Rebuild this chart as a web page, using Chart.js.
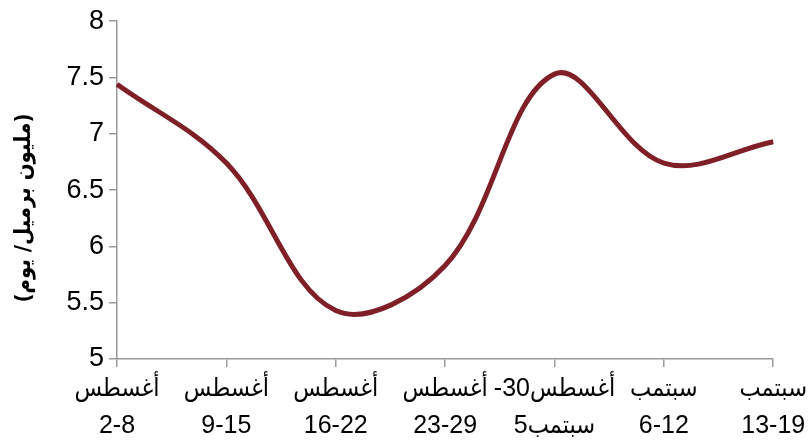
<!DOCTYPE html>
<html>
<head>
<meta charset="utf-8">
<script src="https://cdn.jsdelivr.net/npm/chart.js@4/dist/chart.umd.min.js"></script>
<style>
  html, body { margin: 0; padding: 0; background: #fff; }
  #wrap { width: 810px; height: 447px; position: relative; }
</style>
</head>
<body>
<div id="wrap"><canvas id="c" width="810" height="447"></canvas></div>
<script>
const weekLabels = [
  ['أغسطس', '2-8'],
  ['أغسطس', '9-15'],
  ['أغسطس', '16-22'],
  ['أغسطس', '23-29'],
  ['-30أغسطس', 'سبتمب5'],
  ['سبتمب', '6-12'],
  ['سبتمب', '13-19']
];
const production = [7.44, 6.74, 5.43, 5.83, 7.53, 6.74, 6.93];
const yTicks = [5, 5.5, 6, 6.5, 7, 7.5, 8];
const yTitle = '(مليون برميل/ يوم)';

const FONT = '"Liberation Sans", "DejaVu Sans Condensed", Arial, sans-serif';
const TITLE_FONT = '"DejaVu Sans Condensed", "DejaVu Sans", sans-serif';
const AXIS = '#9a9a9a';

const yTitlePlugin = {
  id: 'yTitle',
  afterDraw(chart) {
    const ctx = chart.ctx;
    ctx.save();
    ctx.translate(24, 208);
    ctx.rotate(-Math.PI / 2);
    ctx.font = 'bold 22px ' + TITLE_FONT;
    ctx.fillStyle = '#000';
    ctx.textAlign = 'center';
    ctx.textBaseline = 'middle';
    ctx.fillText(yTitle, 0, 0);
    ctx.restore();
  }
};

new Chart(document.getElementById('c'), {
  type: 'line',
  data: {
    labels: weekLabels,
    datasets: [{
      data: production,
      borderColor: '#7f2028',
      borderWidth: 5,
      pointRadius: 0,
      tension: 0.36,
      fill: false
    }]
  },
  plugins: [yTitlePlugin],
  options: {
    responsive: false,
    animation: false,
    layout: { padding: { top: 16, right: 36, left: 0, bottom: 0 } },
    plugins: { legend: { display: false }, tooltip: { enabled: false } },
    scales: {
      x: {
        offset: false,
        grid: { drawOnChartArea: false, color: AXIS, tickLength: 8, lineWidth: 1.5 },
        border: { color: AXIS, width: 1.5 },
        ticks: {
          color: '#000',
          font: { family: FONT, size: 25, lineHeight: 1.5 },
          maxRotation: 0, minRotation: 0, autoSkip: false, padding: 3
        },
        afterFit: s => { s.height = 88; }
      },
      y: {
        min: 5, max: 8,
        afterBuildTicks: s => { s.ticks = yTicks.map(v => ({ value: v })); },
        grid: { drawOnChartArea: false, color: AXIS, tickLength: 8, lineWidth: 1.5 },
        border: { color: AXIS, width: 1.5 },
        ticks: {
          color: '#000',
          font: { family: FONT, size: 27 },
          padding: 5,
          callback: v => String(v)
        },
        afterFit: s => { s.width = 117; }
      }
    }
  }
});
</script>
</body>
</html>
